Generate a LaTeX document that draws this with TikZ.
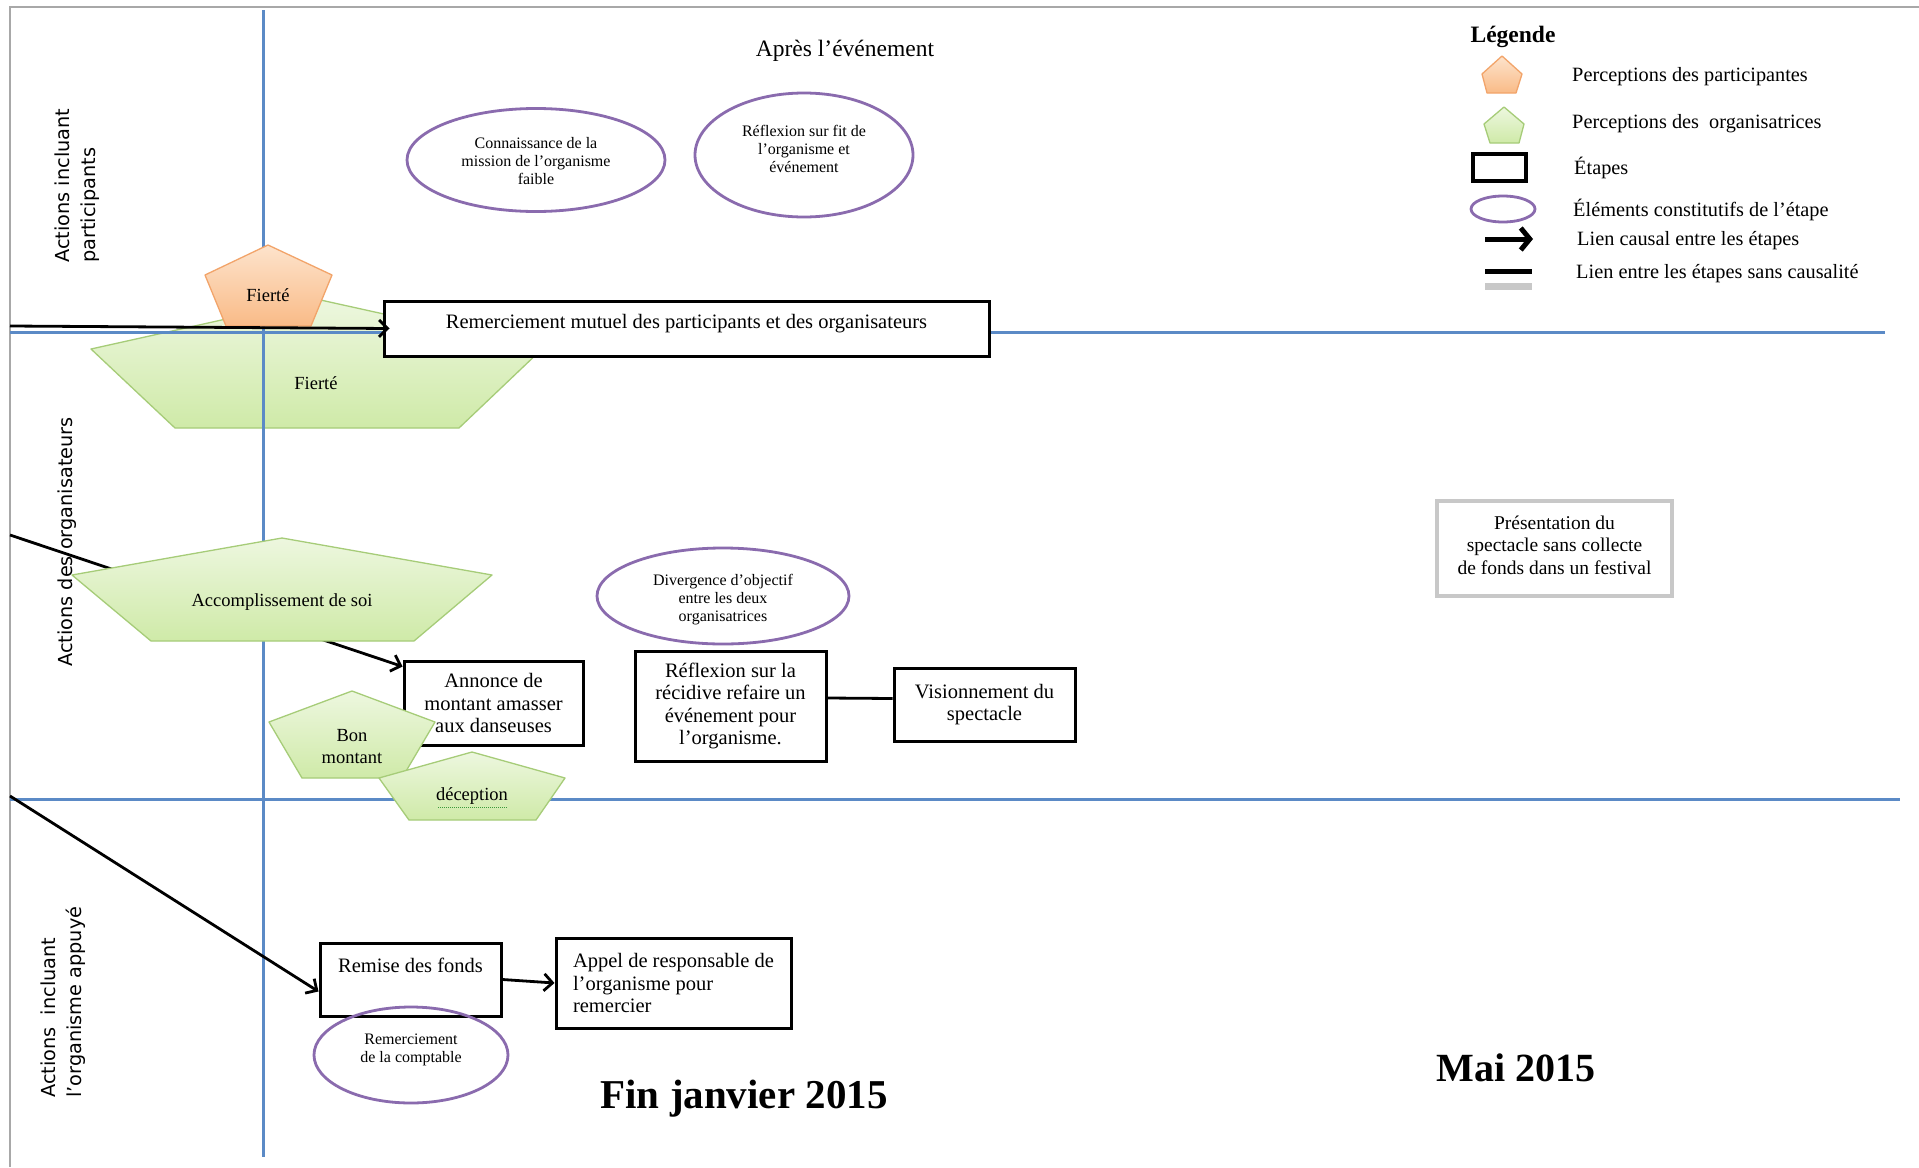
\documentclass[tikz,border=0pt]{standalone}
\usepackage{fontspec}
\setmainfont{Liberation Serif}
\newfontfamily\lanefont{DejaVu Sans}
\usetikzlibrary{arrows.meta,shapes.geometric,calc}

\definecolor{laneblue}{HTML}{5B8AC6}
\definecolor{bordergray}{HTML}{A8A8A8}
\definecolor{greenfillA}{HTML}{EDF7DF}
\definecolor{greenfillB}{HTML}{CFEAA8}
\definecolor{greenedge}{HTML}{A6CC78}
\definecolor{orangefillA}{HTML}{FDE3CC}
\definecolor{orangefillB}{HTML}{F9BB87}
\definecolor{orangeedge}{HTML}{F2A46A}
\definecolor{purpleedge}{HTML}{8A6BAE}
\definecolor{lightgraybox}{HTML}{C8C8C8}
\definecolor{spellgreen}{HTML}{3C9A3C}

\newcommand\liftlines[2]{\raisebox{#1}[\height][\depth]{\begin{tabular}{@{}c@{}}#2\end{tabular}}}
\newcommand\liftone[2]{\raisebox{#1}[\height][\depth]{#2}}

\begin{document}
\begin{tikzpicture}[x=1pt,y=-1pt,
  lane/.style={draw=laneblue,line width=3pt},
  frame/.style={draw=bordergray,line width=2pt},
  greenpent/.style={top color=greenfillA,bottom color=greenfillB,draw=greenedge,line width=1.3pt,line join=round},
  orangepent/.style={top color=orangefillA,bottom color=orangefillB,draw=orangeedge,line width=1.3pt,line join=round},
  stepbox/.style={draw=black,line width=3pt,fill=white,inner sep=0pt,align=center,font=\fontsize{20.5}{22.5}\selectfont},
  elem/.style={ellipse,draw=purpleedge,line width=2.8pt,inner sep=0pt,font=\fontsize{16}{18}\selectfont},
  penttext/.style={align=center,font=\fontsize{18.5}{22}\selectfont,inner sep=0pt},
  lanelabel/.style={rotate=90,anchor=west,align=left,inner sep=0pt,font=\lanefont\fontsize{19.3}{26.5}\selectfont},
  legtext/.style={anchor=west,inner sep=0pt,font=\fontsize{20.3}{24}\selectfont},
  causal/.style={draw=black,line width=2.8pt,-{Straight Barb[length=8.5pt,width=17pt]}},
  plainlink/.style={draw=black,line width=2.8pt},
]

\useasboundingbox (0,0) rectangle (1919,1167);
\fill[white] (0,0) rectangle (1919,1167);

% frame
\draw[frame] (10,1167) -- (10,7) -- (1919,7);

% big green pentagon (behind lanes)
\draw[greenpent] (316,299) -- (542,349) -- (459,428) -- (175,428) -- (91,349) -- cycle;
\node[penttext] (fiertevert) at (316,383) {Fierté};

% swimlane lines
\draw[lane] (263,10) -- (263,1157);
\draw[lane] (10,332) -- (1885,332);
\draw[lane] (10,799) -- (1900,799);

% orange pentagon
\draw[orangepent] (268,245) -- (332,275) -- (311,326) -- (226,326) -- (205,275) -- cycle;
\node[penttext] (fierteorange) at (268,295) {Fierté};

% free ends of incoming links
\coordinate (in1) at (10,326);
\coordinate (in2) at (10,535);
\coordinate (in3) at (10,796);

% steps
\node[stepbox,minimum width=605pt,minimum height=55pt] (merci) at (686.5,328.5) {\liftone{5pt}{Remerciement mutuel des participants et des organisateurs}};
\node[stepbox,minimum width=179pt,minimum height=84pt] (annonce) at (493.5,703) {Annonce de\\montant amasser\\aux danseuses};
\node[stepbox,minimum width=191pt,minimum height=110pt] (recidive) at (730.5,706) {Réflexion sur la\\récidive refaire un\\événement pour\\l’organisme.};
\node[stepbox,minimum width=181pt,minimum height=73pt] (vision) at (984.5,704.5) {Visionnement du\\spectacle};
\node[stepbox,minimum width=181pt,minimum height=73pt] (remise) at (410.5,979.5) {Remise des fonds\\\strut};
\node[stepbox,minimum width=235pt,minimum height=90pt,align=left] (appel) at (673.5,983) {Appel de responsable de\\l’organisme pour\\remercier};
\node[draw=lightgraybox,line width=4pt,minimum width=235pt,minimum height=95pt,inner sep=0pt,font=\fontsize{19.5}{22.5}\selectfont] (festival) at (1554.5,548.5) {\liftlines{1.5pt}{Présentation du\\spectacle sans collecte\\de fonds dans un festival}};

% links
\draw[causal] (in1) -- ([xshift=7pt]merci.west);
\draw[causal] (in2) -- ([yshift=-7pt]annonce.north west);
\draw[causal] (in3) -- ([yshift=-12pt]remise.west);
\draw[causal] (remise.east) -- (appel.west);
\draw[plainlink] ([yshift=8pt]recidive.east) -- ([yshift=6pt]vision.west);

% elements
\node[elem,minimum width=258pt,minimum height=103pt] (connaissance) at (536,160) {\liftlines{-2.5pt}{Connaissance de la\\mission de l’organisme\\faible}};
\node[elem,minimum width=218pt,minimum height=124pt] (fit) at (804,155) {\liftlines{4pt}{Réflexion sur fit de\\l’organisme et\\événement}};
\node[elem,minimum width=252pt,minimum height=96pt] (divergence) at (723,596) {\liftlines{-3.5pt}{Divergence d’objectif\\entre les deux\\organisatrices}};
\node[elem,minimum width=194pt,minimum height=96pt] (comptable) at (411,1055) {\liftlines{5pt}{Remerciement\\de la comptable}};

% green perceptions
\draw[greenpent] (282,538) -- (492,575) -- (414,641) -- (151,641) -- (72,575) -- cycle;
\node[penttext] (accomp) at (282,602) {Accomplissement de soi};
\draw[greenpent] (352,691) -- (435,722) -- (402,778) -- (302,778) -- (269,722) -- cycle;
\node[penttext] (bon) at (352,747) {Bon\\montant};
\draw[greenpent] (472,752) -- (565,778) -- (536,820) -- (409,820) -- (379,778) -- cycle;
\node[penttext] (deception) at (472,796) {déception};
\draw[spellgreen,line width=1pt,densely dotted] (438,807) -- (507,807);

% lane labels
\node[lanelabel] (lane1) at (77,263) {Actions incluant\\participants};
\node[lanelabel] (lane2) at (67,667) {Actions des organisateurs};
\node[lanelabel] (lane3) at (63,1098) {Actions\ \ incluant\\l’organisme appuyé};

% titles
\node[font=\fontsize{23.5}{26}\selectfont,inner sep=0pt] (apres) at (845,51) {Après l’événement};
\node[font=\bfseries\fontsize{41}{44}\selectfont,inner sep=0pt] (finjanvier) at (744,1099) {Fin janvier 2015};
\node[font=\bfseries\fontsize{40}{44}\selectfont,inner sep=0pt] (mai) at (1516,1068) {Mai 2015};

% legend
\node[font=\bfseries\fontsize{23.5}{26}\selectfont,inner sep=0pt] (legende) at (1513,37) {Légende};
\draw[orangepent] (1502,56) -- (1522,74) -- (1516,93) -- (1487,93) -- (1482,74) -- cycle;
\node[legtext] (leg1) at (1572,77) {Perceptions des participantes};
\draw[greenpent] (1504,107) -- (1524,124) -- (1519,143) -- (1490,143) -- (1484,124) -- cycle;
\node[legtext] (leg2) at (1572,124) {Perceptions des\ \ organisatrices};
\node[draw=black,line width=3.5pt,minimum width=53pt,minimum height=27pt,inner sep=0pt] (legbox) at (1499.5,167.5) {};
\node[legtext] (leg3) at (1574,168) {Étapes};
\node[ellipse,draw=purpleedge,line width=2.8pt,minimum width=64pt,minimum height=26pt,inner sep=0pt] (legell) at (1503,209) {};
\node[legtext] (leg4) at (1573,210) {Éléments constitutifs de l’étape};
\coordinate (legarrA) at (1485,239);
\coordinate (legarrB) at (1533,239);
\draw[black,line width=5pt,-{Straight Barb[length=9pt,width=22pt]}] (legarrA) -- (legarrB);
\node[legtext] (leg5) at (1577,241) {Lien causal entre les étapes};
\coordinate (legbarA) at (1485,271);
\coordinate (legbarB) at (1532,271);
\draw[black,line width=5pt] (legbarA) -- (legbarB);
\coordinate (legbarC) at (1485,286);
\coordinate (legbarD) at (1532,286);
\draw[lightgraybox,line width=7pt] (legbarC) -- (legbarD);
\node[legtext] (leg6) at (1576,274) {Lien entre les étapes sans causalité};

\end{tikzpicture}
\end{document}
